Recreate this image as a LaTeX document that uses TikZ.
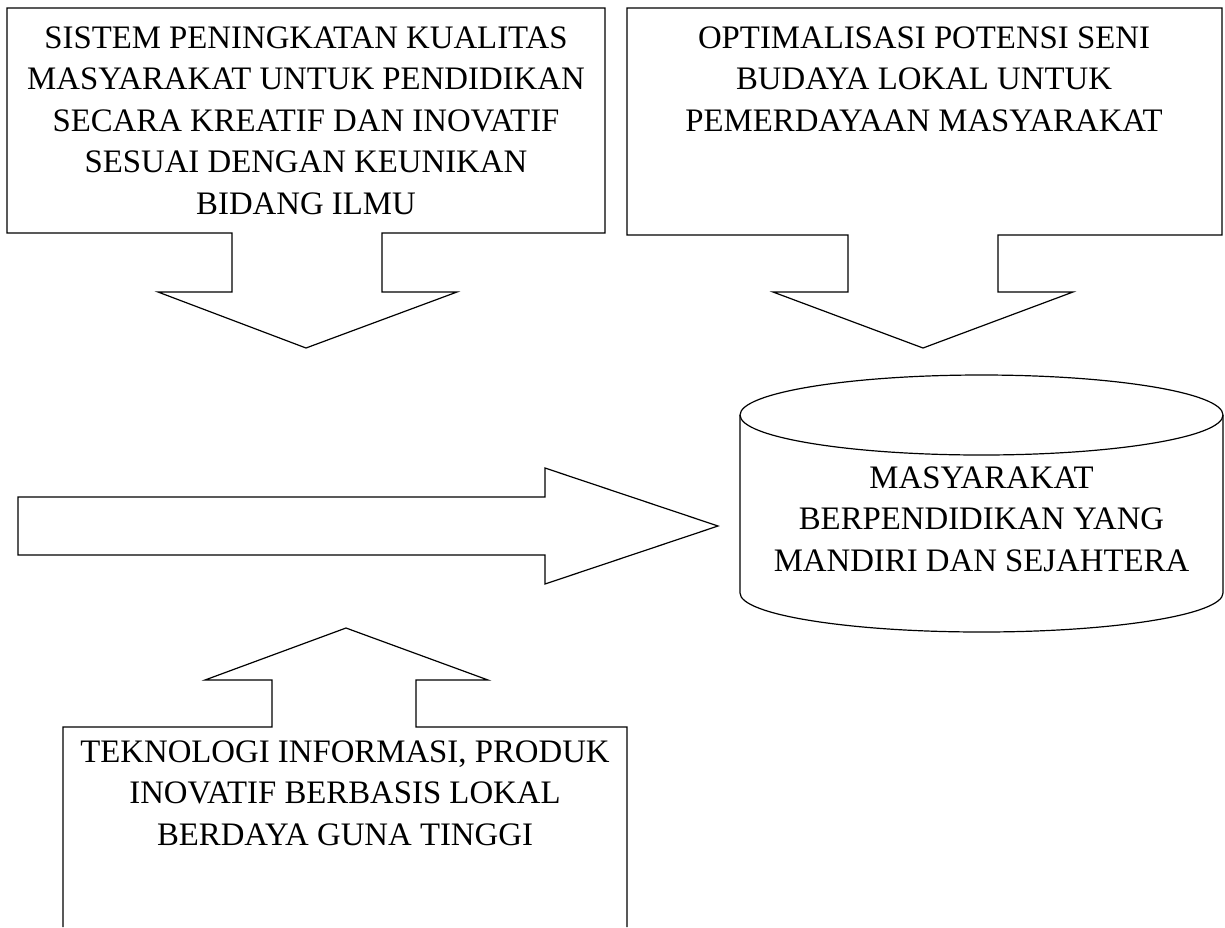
\documentclass[tikz,border=0pt]{standalone}
\usepackage{fontspec}
\setmainfont{Liberation Serif}
\begin{document}
\begin{tikzpicture}[x=1pt,y=-1pt,line width=1.2pt,line join=miter,
  lbl/.style={align=center,inner sep=0pt,anchor=north,font=\fontsize{32.8}{41.5}\selectfont}]
\useasboundingbox (0,0) rectangle (1225,927);
\fill[white] (0,0) rectangle (1225,927);
% box 1 with down arrow
\draw (7,8) -- (605,8) -- (605,233) -- (382,233) -- (382,292) -- (457,292)
  -- (306,348) -- (158,292) -- (232,292) -- (232,233) -- (7,233) -- cycle;
\node[lbl] (sistem) at (306,26) {SISTEM PENINGKATAN KUALITAS\\MASYARAKAT UNTUK PENDIDIKAN\\SECARA KREATIF DAN INOVATIF\\SESUAI DENGAN KEUNIKAN\\BIDANG ILMU};
% box 2 with down arrow
\draw (627,8) -- (1222,8) -- (1222,235) -- (998,235) -- (998,292) -- (1073,292)
  -- (923,348) -- (773,292) -- (848,292) -- (848,235) -- (627,235) -- cycle;
\node[lbl] (optimal) at (924,26) {OPTIMALISASI POTENSI SENI\\BUDAYA LOKAL UNTUK\\PEMERDAYAAN MASYARAKAT};
% horizontal arrow
\draw (18,497) -- (545,497) -- (545,468) -- (718,526) -- (545,584) -- (545,555) -- (18,555) -- cycle;
% cylinder
\draw (740,415) -- (740,593) arc[start angle=180,end angle=360,x radius=241.5,y radius=-39] -- (1223,415);
\draw (981.5,415) ellipse[x radius=241.5,y radius=40];
\node[lbl] (masy) at (981.5,466) {MASYARAKAT\\BERPENDIDIKAN YANG\\MANDIRI DAN SEJAHTERA};
% bottom box with up arrow
\draw (63,927) -- (63,727) -- (272,727) -- (272,680) -- (205,680) -- (346,628)
  -- (488,680) -- (416,680) -- (416,727) -- (627,727) -- (627,927);
\node[lbl] (tekno) at (345,740) {TEKNOLOGI INFORMASI, PRODUK\\INOVATIF BERBASIS LOKAL\\BERDAYA GUNA TINGGI};
\end{tikzpicture}
\end{document}
